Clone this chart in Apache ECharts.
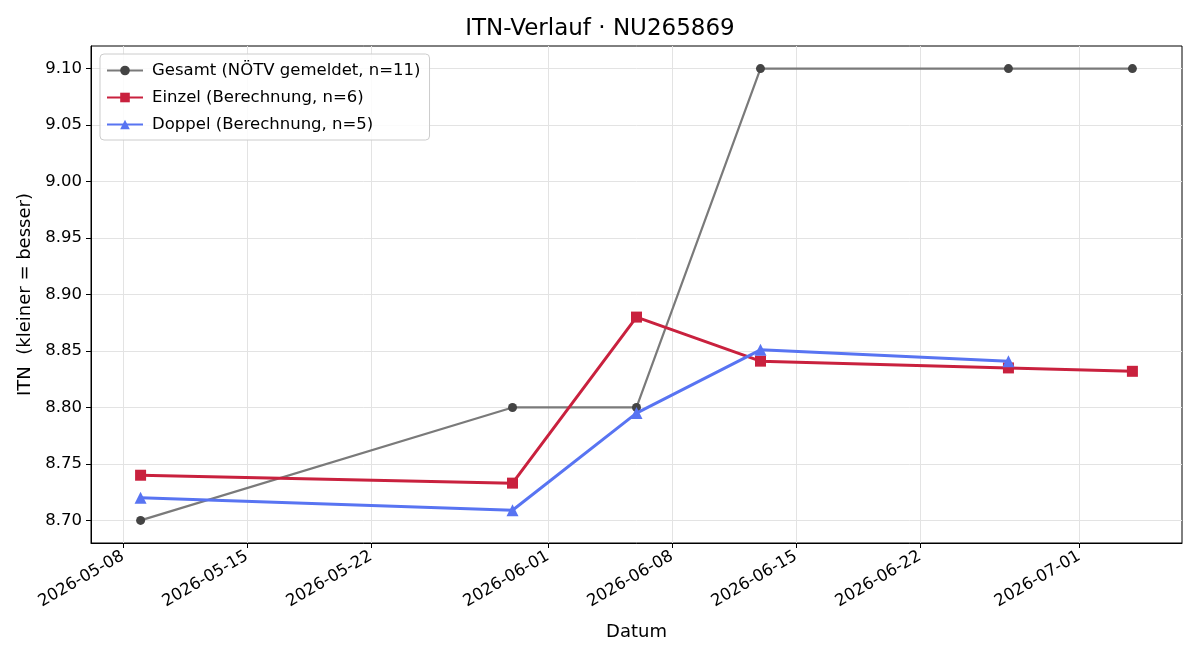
<!DOCTYPE html>
<html>
<head>
<meta charset="utf-8">
<script src="https://cdn.jsdelivr.net/npm/echarts@6/dist/echarts.min.js"></script>
<style>
  html, body { margin: 0; padding: 0; background: #fff; }
  #chart { width: 1200px; height: 660px; }
</style>
</head>
<body>
<div id="chart"></div>
<script>
// --- data ---
const gesamtDates = ['2026-05-09', '2026-05-30', '2026-06-06', '2026-06-13', '2026-06-27', '2026-07-04'];
const gesamtValues = [8.70, 8.80, 8.80, 9.10, 9.10, 9.10];

const einzelDates = ['2026-05-09', '2026-05-30', '2026-06-06', '2026-06-13', '2026-06-27', '2026-07-04'];
const einzelValues = [8.740, 8.733, 8.880, 8.841, 8.835, 8.832];

const doppelDates = ['2026-05-09', '2026-05-30', '2026-06-06', '2026-06-13', '2026-06-27'];
const doppelValues = [8.720, 8.709, 8.795, 8.851, 8.841];

const xTickLabels = ['2026-05-08', '2026-05-15', '2026-05-22', '2026-06-01', '2026-06-08', '2026-06-15', '2026-06-22', '2026-07-01'];
const yTickValues = [8.70, 8.75, 8.80, 8.85, 8.90, 8.95, 9.00, 9.05, 9.10];

const DAY = 86400000;
function ts(s) {
    const p = s.split('-').map(Number);
    return Date.UTC(p[0], p[1] - 1, p[2]);
}
function pad(n) { return n < 10 ? '0' + n : '' + n; }
function fmt(t) {
    const d = new Date(t);
    return d.getUTCFullYear() + '-' + pad(d.getUTCMonth() + 1) + '-' + pad(d.getUTCDate());
}
function pairs(dates, values) {
    return dates.map((d, i) => [ts(d), values[i]]);
}

const xTicks = xTickLabels.map(ts);
// matplotlib-like 5% margins around the data
const xMin = ts('2026-05-09') - 2.8 * DAY;
const xMax = ts('2026-07-04') + 2.8 * DAY;

const font = '"DejaVu Sans", sans-serif';
const gridLine = { show: true, lineStyle: { color: '#e3e3e3', width: 1 } };

let myChart = echarts.init(document.getElementById('chart'));
myChart.setOption({
    animation: false,
    textStyle: { fontFamily: font },
    title: {
        text: 'ITN-Verlauf · NU265869',
        left: 'center',
        top: 13,
        textStyle: { color: '#000', fontWeight: 'normal', fontSize: 23, fontFamily: font }
    },
    grid: {
        left: 91, right: 18, top: 46, bottom: 117,
        show: true, borderColor: '#000', borderWidth: 1
    },
    legend: {
        orient: 'vertical',
        left: 100,
        top: 54,
        padding: [8, 9, 7, 6],
        itemWidth: 36,
        itemHeight: 12,
        itemGap: 10,
        borderColor: '#cccccc',
        borderWidth: 1,
        borderRadius: 4,
        backgroundColor: 'rgba(255,255,255,0.85)',
        textStyle: { color: '#000', fontSize: 16.5, fontFamily: font, padding: [0, 0, 0, 4] },
        data: ['Gesamt (NÖTV gemeldet, n=11)', 'Einzel (Berechnung, n=6)', 'Doppel (Berechnung, n=5)']
    },
    xAxis: {
        type: 'value',
        min: xMin,
        max: xMax,
        name: 'Datum',
        nameLocation: 'middle',
        nameGap: 80,
        nameTextStyle: { color: '#000', fontSize: 18, fontFamily: font },
        axisLine: { show: true, lineStyle: { color: '#000' } },
        axisTick: { show: true, customValues: xTicks, length: 5, lineStyle: { color: '#000' } },
        axisLabel: {
            customValues: xTicks,
            rotate: 30,
            color: '#000',
            fontSize: 16.5,
            fontFamily: font,
            margin: 12,
            formatter: v => fmt(v)
        },
        splitLine: gridLine
    },
    yAxis: {
        type: 'value',
        min: 8.68,
        max: 9.12,
        name: 'ITN  (kleiner = besser)',
        nameLocation: 'middle',
        nameGap: 57,
        nameTextStyle: { color: '#000', fontSize: 18, fontFamily: font },
        axisLine: { show: true, lineStyle: { color: '#000' } },
        axisTick: { show: true, customValues: yTickValues, length: 5, lineStyle: { color: '#000' } },
        axisLabel: {
            customValues: yTickValues,
            color: '#000',
            fontSize: 16.5,
            fontFamily: font,
            margin: 9,
            formatter: v => v.toFixed(2)
        },
        splitLine: gridLine
    },
    series: [
        {
            name: 'Gesamt (NÖTV gemeldet, n=11)',
            type: 'line',
            data: pairs(gesamtDates, gesamtValues),
            symbol: 'circle',
            symbolSize: 9,
            itemStyle: { color: '#444444' },
            lineStyle: { color: '#7a7a7a', width: 2.2 },
            z: 2
        },
        {
            name: 'Einzel (Berechnung, n=6)',
            type: 'line',
            data: pairs(einzelDates, einzelValues),
            symbol: 'rect',
            symbolSize: 11,
            itemStyle: { color: '#c9213e' },
            lineStyle: { color: '#c9213e', width: 3 },
            z: 3
        },
        {
            name: 'Doppel (Berechnung, n=5)',
            type: 'line',
            data: pairs(doppelDates, doppelValues),
            symbol: 'triangle',
            symbolSize: 12,
            itemStyle: { color: '#5874f2' },
            lineStyle: { color: '#5874f2', width: 3 },
            z: 4
        }
    ]
});
</script>
</body>
</html>
